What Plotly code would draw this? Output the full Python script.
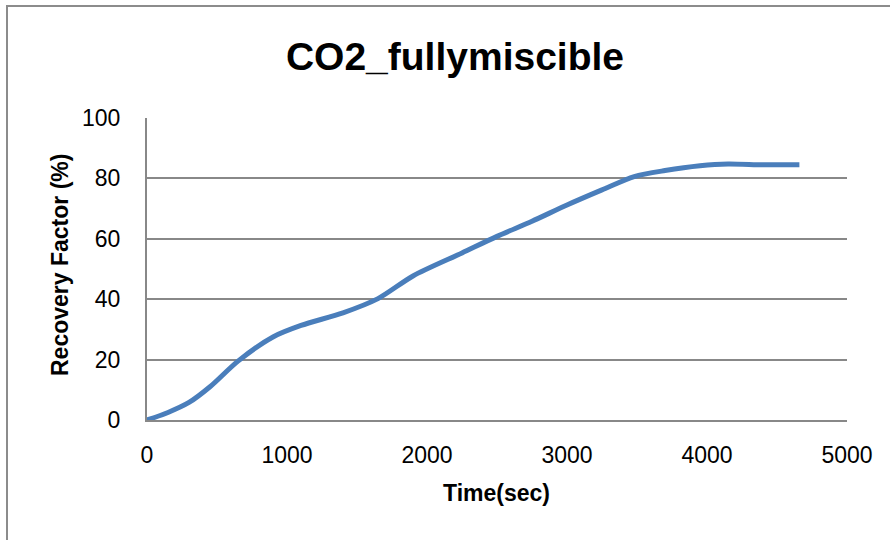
import plotly.graph_objects as go

time_sec = [0, 150, 300, 450, 650, 900, 1100, 1400, 1650, 1900, 2250, 2500, 2750, 3000, 3250, 3480, 3700, 3950, 4150, 4400, 4660]
recovery = [0, 2.5, 5.8, 11, 19.5, 27.5, 31.3, 35.5, 40.2, 47.7, 55.3, 60.8, 65.8, 71.2, 76.2, 80.6, 82.6, 84.2, 84.8, 84.5, 84.5]

x_ticks = [0, 1000, 2000, 3000, 4000, 5000]
y_ticks = [0, 20, 40, 60, 80, 100]

title_text = "CO2_fullymiscible"
x_title = "Time(sec)"
y_title = "Recovery Factor (%)"

FONT = "Liberation Sans"
GRID = "#888888"

L, R, T, B = 147, 43, 118, 120
W, H = 890, 540
pw, ph = W - L - R, H - T - B

fig = go.Figure()
fig.add_trace(go.Scatter(
    x=time_sec, y=recovery, mode="lines",
    line=dict(color="#4A7EBB", width=5, shape="spline", smoothing=0.8),
    showlegend=False, hoverinfo="skip",
))

def px_x(p):
    return (p - L) / pw

def px_y(p):
    return (H - B - p) / ph

fig.update_layout(
    width=W, height=H,
    margin=dict(l=L, r=R, t=T, b=B),
    paper_bgcolor="white", plot_bgcolor="white",
    font=dict(family=FONT, color="black"),
    title=dict(text="<b>" + title_text + "</b>", font=dict(family=FONT, size=39, color="black"),
               xref="paper", x=px_x(455), xanchor="center",
               yref="container", y=1 - 56 / H, yanchor="middle"),
    xaxis=dict(range=[0, 5000], tickvals=x_ticks, ticktext=[str(v) for v in x_ticks],
               showgrid=False, zeroline=False, showline=True, linecolor=GRID, linewidth=2,
               ticks="", tickfont=dict(family=FONT, size=23, color="black"),
               ticklabelstandoff=13, fixedrange=True),
    yaxis=dict(range=[0, 100], tickvals=y_ticks, ticktext=[str(v) for v in y_ticks],
               showgrid=True, gridcolor=GRID, gridwidth=2, zeroline=False,
               showline=True, linecolor=GRID, linewidth=2,
               ticks="", tickfont=dict(family=FONT, size=23, color="black"),
               ticklabelstandoff=20, fixedrange=True),
    annotations=[
        dict(text="<b>" + x_title + "</b>", xref="paper", yref="paper",
             x=px_x(496), y=px_y(493), xanchor="center", yanchor="middle",
             showarrow=False, font=dict(family=FONT, size=23, color="black")),
        dict(text="<b>" + y_title + "</b>", xref="paper", yref="paper",
             x=px_x(60), y=px_y(265), xanchor="center", yanchor="middle", textangle=-90,
             showarrow=False, font=dict(family=FONT, size=23, color="black")),
    ],
    shapes=[
        dict(type="rect", xref="paper", yref="paper",
             x0=px_x(7), x1=px_x(900), y0=px_y(550), y1=px_y(6),
             line=dict(color="#8c8c8c", width=2), fillcolor="rgba(0,0,0,0)", layer="below"),
    ],
)

fig.write_html("out.html", config={"displayModeBar": False})
